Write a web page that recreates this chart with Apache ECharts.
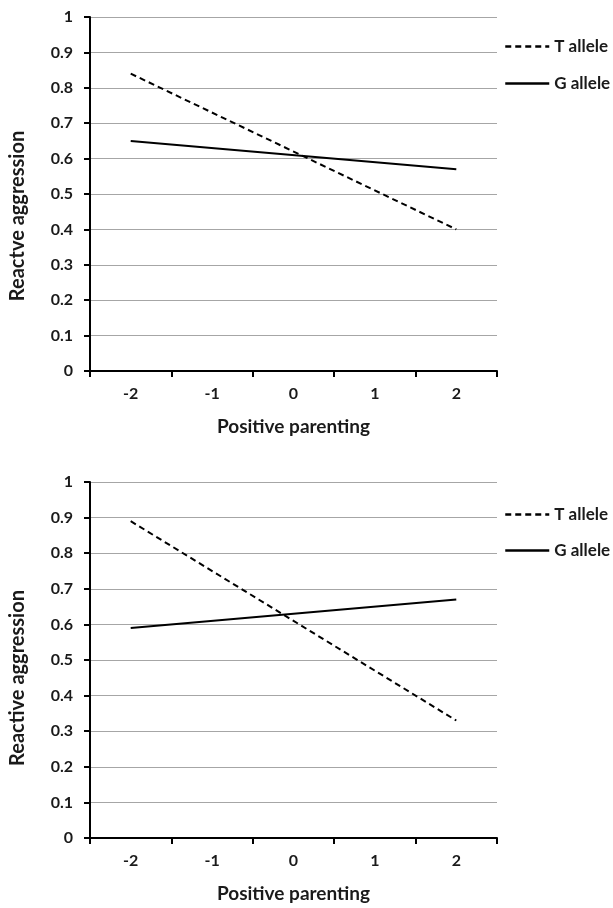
<!DOCTYPE html>
<html><head><meta charset="utf-8">
<script src="https://cdn.jsdelivr.net/npm/echarts@6/dist/echarts.min.js"></script>
<style>html,body{margin:0;padding:0;background:#fff}#c{width:613px;height:908px}</style>
</head><body><div id="c"></div>
<script>
const categories = ['-2', '-1', '0', '1', '2'];
const yTicks = [0, 0.1, 0.2, 0.3, 0.4, 0.5, 0.6, 0.7, 0.8, 0.9, 1];
// Panel A (only endpoints are drawn in the figure)
const topT = [0.84, null, null, null, 0.40];
const topG = [0.65, null, null, null, 0.57];
// Panel B
const botT = [0.89, null, null, null, 0.33];
const botG = [0.59, null, null, null, 0.67];
const xTitle = 'Positive parenting';
const yTitleTop = 'Reactve aggression';
const yTitleBot = 'Reactive aggression';

const FONT = 'Lato';
const grids = [
  {left: 90, right: 116, top: 17, bottom: 537},
  {left: 90, right: 116, top: 482, bottom: 70}
];
function xAxis(i){
  return {
    type: 'category', gridIndex: i, data: categories, boundaryGap: true,
    axisLine: {lineStyle: {color: '#000', width: 2}},
    axisTick: {show: true, inside: false, length: 6, lineStyle: {color: '#000', width: 2}},
    axisLabel: {color: '#1a1a1a', fontFamily: FONT, fontWeight: 'bold', fontSize: 16, margin: 15},
    name: xTitle, nameLocation: 'middle', nameGap: 46,
    nameTextStyle: {color: '#1a1a1a', fontFamily: FONT, fontWeight: 'bold', fontSize: 19}
  };
}
function yAxis(i, title, shift){
  return {
    type: 'value', gridIndex: i, min: 0, max: 1, interval: 0.1,
    axisLine: {show: true, lineStyle: {color: '#000', width: 2}},
    axisTick: {show: true, inside: false, length: 6, lineStyle: {color: '#000', width: 2}},
    axisLabel: {color: '#1a1a1a', fontFamily: FONT, fontWeight: 'bold', fontSize: 16, margin: 17,
      formatter: v => (yTicks.indexOf(Math.round(v*10)/10) >= 0 ? String(Math.round(v*10)/10) : '')},
    splitLine: {show: true, lineStyle: {color: '#a6a6a6', width: 1}},
    name: title, nameLocation: 'middle', nameGap: 62,
    nameTextStyle: {color: '#1a1a1a', fontFamily: FONT, fontWeight: 'bold', fontSize: 20,
      padding: [0, shift, 0, 0]}
  };
}
function ser(name, data, i, dashed){
  return {
    name: name, type: 'line', xAxisIndex: i, yAxisIndex: i, data: data,
    connectNulls: true, symbol: 'none', silent: true, animation: false,
    lineStyle: {color: '#000', width: 2, type: dashed ? [6, 4] : 'solid'},
    itemStyle: {color: '#000'}
  };
}
function legend(top, gap, names){
  return {
    orient: 'vertical', left: 499, top: top, itemWidth: 44, itemHeight: 18, itemGap: gap,
    data: names, selectedMode: false,
    itemStyle: {color: 'transparent', borderColor: 'transparent', borderWidth: 0, opacity: 0},
    lineStyle: {width: 2.5},
    textStyle: {color: '#1a1a1a', fontFamily: FONT, fontWeight: 'bold', fontSize: 17}
  };
}
const chart = echarts.init(document.getElementById('c'), null, {renderer: 'canvas'});
chart.setOption({
  animation: false,
  grid: grids,
  xAxis: [xAxis(0), xAxis(1)],
  yAxis: [yAxis(0, yTitleTop, 44), yAxis(1, yTitleBot, 36)],
  legend: [
    legend(33, 20, ['T allele', 'G allele']),
    legend(501, 19, ['T allele ', 'G allele '])
  ],
  series: [
    ser('T allele', topT, 0, true),
    ser('G allele', topG, 0, false),
    ser('T allele ', botT, 1, true),
    ser('G allele ', botG, 1, false)
  ]
});
</script></body></html>
